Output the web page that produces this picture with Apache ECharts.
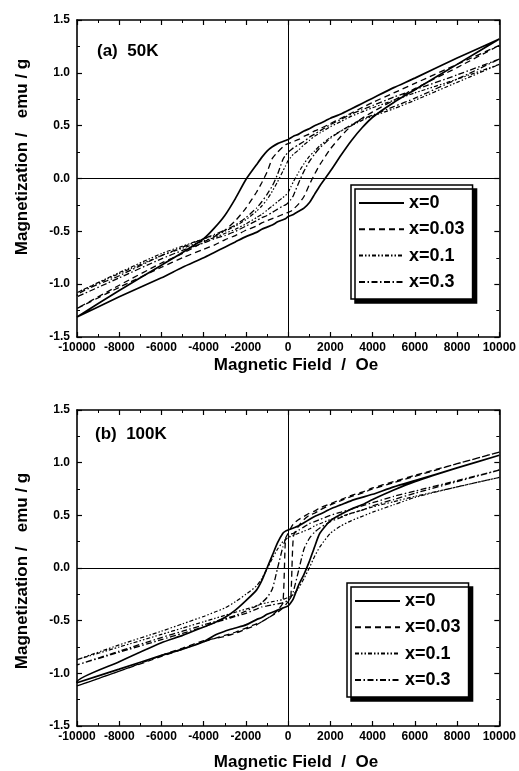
<!DOCTYPE html>
<html><head><meta charset="utf-8">
<script src="https://cdn.jsdelivr.net/npm/echarts@6/dist/echarts.min.js"></script>
<style>html,body{margin:0;padding:0;background:#fff}#c{width:519px;height:771px}</style>
</head><body><div id="c"></div><script>
// Field values (Oe) along descending branch and ascending branch
const fieldDown = [10000,8000,6000,5000,4000,3500,3000,2500,2000,1500,1250,1000,750,500,250,125,0,-125,-250,-500,-750,-1000,-1250,-1500,-2000,-2500,-3000,-3500,-4000,-5000,-6000,-8000,-10000];
const fieldUp = [-10000,-8000,-6000,-5000,-4000,-3500,-3000,-2500,-2000,-1500,-1250,-1000,-750,-500,-250,-125,0,125,250,500,750,1000,1250,1500,2000,2500,3000,3500,4000,5000,6000,8000,10000];

const seriesNames = ['x=0','x=0.03','x=0.1','x=0.3'];
const xTicks = [-10000,-8000,-6000,-4000,-2000,0,2000,4000,6000,8000,10000];
const yTicks = [-1.5,-1.0,-0.5,0.0,0.5,1.0,1.5];
const panelTitles = ['(a)  50K','(b)  100K'];

// (a) 50K
const a50_x0_down = [1.32,1.14,0.95,0.86,0.76,0.71,0.66,0.61,0.57,0.52,0.50,0.47,0.45,0.42,0.40,0.385,0.37,0.36,0.35,0.33,0.30,0.26,0.20,0.13,-0.01,-0.19,-0.35,-0.47,-0.57,-0.70,-0.82,-1.06,-1.31];
const a50_x0_up = [-1.31,-1.12,-0.94,-0.84,-0.75,-0.70,-0.65,-0.60,-0.55,-0.51,-0.48,-0.46,-0.44,-0.41,-0.39,-0.38,-0.36,-0.35,-0.34,-0.31,-0.28,-0.23,-0.15,-0.07,0.07,0.22,0.36,0.48,0.58,0.72,0.84,1.08,1.32];
const a50_x003_down = [1.26,1.08,0.90,0.81,0.72,0.67,0.62,0.57,0.52,0.47,0.45,0.42,0.40,0.37,0.35,0.34,0.33,0.32,0.30,0.25,0.19,0.06,-0.04,-0.13,-0.28,-0.40,-0.49,-0.55,-0.60,-0.71,-0.80,-1.01,-1.23];
const a50_x003_up = [-1.23,-1.03,-0.84,-0.75,-0.67,-0.63,-0.58,-0.54,-0.49,-0.45,-0.42,-0.40,-0.38,-0.36,-0.34,-0.33,-0.32,-0.31,-0.29,-0.24,-0.17,-0.06,0.04,0.13,0.28,0.40,0.50,0.57,0.63,0.74,0.85,1.05,1.26];
const a50_x01_down = [1.08,0.94,0.81,0.74,0.67,0.63,0.59,0.54,0.49,0.43,0.40,0.36,0.32,0.27,0.23,0.20,0.17,0.12,0.07,-0.03,-0.12,-0.20,-0.26,-0.31,-0.39,-0.45,-0.50,-0.54,-0.57,-0.64,-0.71,-0.89,-1.08];
const a50_x01_up = [-1.08,-0.90,-0.73,-0.66,-0.59,-0.56,-0.52,-0.48,-0.43,-0.37,-0.34,-0.30,-0.26,-0.22,-0.18,-0.16,-0.13,-0.08,-0.03,0.06,0.14,0.21,0.26,0.31,0.39,0.45,0.50,0.55,0.59,0.66,0.74,0.91,1.08];
const a50_x03_down = [1.13,0.98,0.84,0.77,0.69,0.65,0.61,0.56,0.51,0.45,0.42,0.39,0.35,0.32,0.29,0.27,0.25,0.22,0.18,0.04,-0.07,-0.15,-0.22,-0.28,-0.37,-0.44,-0.49,-0.53,-0.57,-0.65,-0.73,-0.92,-1.11];
const a50_x03_up = [-1.12,-0.94,-0.76,-0.68,-0.61,-0.57,-0.54,-0.50,-0.45,-0.40,-0.37,-0.35,-0.32,-0.29,-0.26,-0.25,-0.23,-0.20,-0.16,-0.04,0.07,0.16,0.23,0.29,0.38,0.45,0.51,0.56,0.60,0.68,0.76,0.94,1.13];

// (b) 100K
const b100_x0_down = [1.07,0.95,0.83,0.77,0.70,0.67,0.64,0.60,0.56,0.51,0.49,0.46,0.43,0.40,0.38,0.37,0.36,0.35,0.33,0.24,0.12,0.00,-0.12,-0.21,-0.31,-0.40,-0.47,-0.52,-0.56,-0.64,-0.71,-0.89,-1.08];
const b100_x0_up = [-1.09,-0.96,-0.83,-0.77,-0.70,-0.64,-0.60,-0.57,-0.54,-0.49,-0.47,-0.44,-0.42,-0.40,-0.38,-0.37,-0.36,-0.33,-0.29,-0.16,-0.06,0.06,0.20,0.33,0.45,0.51,0.56,0.60,0.65,0.74,0.82,0.95,1.07];
const b100_x003_down = [1.10,0.99,0.88,0.82,0.76,0.72,0.69,0.65,0.61,0.57,0.54,0.52,0.49,0.46,0.42,0.38,0.33,0.28,-0.33,-0.40,-0.45,-0.48,-0.51,-0.54,-0.58,-0.62,-0.65,-0.67,-0.69,-0.76,-0.83,-0.98,-1.12];
const b100_x003_up = [-1.12,-0.98,-0.84,-0.77,-0.70,-0.67,-0.64,-0.61,-0.57,-0.53,-0.51,-0.48,-0.45,-0.42,-0.38,-0.35,-0.32,-0.28,0.30,0.40,0.46,0.50,0.52,0.55,0.60,0.64,0.68,0.71,0.75,0.81,0.87,0.99,1.10];
const b100_x01_down = [0.86,0.77,0.68,0.63,0.58,0.55,0.52,0.49,0.46,0.42,0.40,0.37,0.35,0.33,0.31,0.30,0.29,0.27,0.25,0.18,0.09,-0.01,-0.10,-0.17,-0.25,-0.32,-0.38,-0.42,-0.46,-0.53,-0.60,-0.73,-0.87];
const b100_x01_up = [-0.87,-0.75,-0.63,-0.57,-0.51,-0.48,-0.45,-0.42,-0.39,-0.36,-0.34,-0.33,-0.32,-0.31,-0.30,-0.29,-0.28,-0.27,-0.25,-0.19,-0.10,0.00,0.11,0.20,0.33,0.40,0.45,0.49,0.53,0.60,0.67,0.77,0.86];
const b100_x03_down = [0.93,0.83,0.73,0.68,0.62,0.59,0.56,0.53,0.50,0.46,0.44,0.42,0.39,0.36,0.33,0.32,0.30,0.27,0.20,0.00,-0.20,-0.28,-0.33,-0.36,-0.41,-0.45,-0.48,-0.51,-0.54,-0.60,-0.66,-0.79,-0.92];
const b100_x03_up = [-0.92,-0.80,-0.68,-0.62,-0.56,-0.52,-0.49,-0.46,-0.43,-0.39,-0.37,-0.36,-0.35,-0.34,-0.33,-0.32,-0.31,-0.28,-0.22,-0.02,0.18,0.28,0.34,0.38,0.44,0.48,0.52,0.55,0.59,0.65,0.71,0.82,0.93];

const panels = [
  {down:[a50_x0_down,a50_x003_down,a50_x01_down,a50_x03_down], up:[a50_x0_up,a50_x003_up,a50_x01_up,a50_x03_up]},
  {down:[b100_x0_down,b100_x003_down,b100_x01_down,b100_x03_down], up:[b100_x0_up,b100_x003_up,b100_x01_up,b100_x03_up]}
];

const FONT = '"Liberation Sans", Arial, sans-serif';
const lineStyles = [
  {type:'solid', width:1.7},
  {type:[6,4], width:1.3},
  {type:[4,2,1.5,2,1.5,2], width:1.2},
  {type:[6,2.5,1.5,2.5], width:1.3}
];

const grids = [
  {left:77, top:20, width:423, height:317},
  {left:77, top:410, width:424, height:316}
];

function xAx(g, pos, lbl){
  return {type:'value', gridIndex:g, position:pos, min:xTicks[0], max:xTicks[xTicks.length-1], interval:xTicks[1]-xTicks[0],
    axisLine:{show:true, onZero:false, lineStyle:{color:'#000', width:1.6}},
    axisTick:{show:true, inside:true, length:5, lineStyle:{color:'#000', width:1.2}},
    minorTick:{show:true, splitNumber:2, length:3, lineStyle:{color:'#000', width:1}},
    splitLine:{show:false}, minorSplitLine:{show:false},
    axisLabel:{show:lbl, margin:5, fontSize:12, fontWeight:'bold', fontFamily:FONT, color:'#000', formatter:v=>String(v)}};
}
function yAx(g, pos, lbl){
  return {type:'value', gridIndex:g, position:pos, min:yTicks[0], max:yTicks[yTicks.length-1], interval:yTicks[1]-yTicks[0],
    axisLine:{show:true, onZero:false, lineStyle:{color:'#000', width:1.6}},
    axisTick:{show:true, inside:true, length:5, lineStyle:{color:'#000', width:1.2}},
    minorTick:{show:true, splitNumber:2, length:3, lineStyle:{color:'#000', width:1}},
    splitLine:{show:false}, minorSplitLine:{show:false},
    axisLabel:{show:lbl, margin:7, fontSize:12, fontWeight:'bold', fontFamily:FONT, color:'#000', formatter:v=>v.toFixed(1)}};
}

const xAxis = [xAx(0,'bottom',true), xAx(0,'top',false), xAx(1,'bottom',true), xAx(1,'top',false)];
const yAxis = [yAx(0,'left',true), yAx(0,'right',false), yAx(1,'left',true), yAx(1,'right',false)];

const series = [];
panels.forEach((p, pi) => {
  seriesNames.forEach((name, si) => {
    const data = fieldDown.map((h,i)=>[h, p.down[si][i]]).concat(fieldUp.map((h,i)=>[h, p.up[si][i]]));
    const s = {name, type:'line', xAxisIndex:pi*2, yAxisIndex:pi*2, data, showSymbol:false, symbol:'none',
      smooth:0.2, lineStyle:Object.assign({color:'#000'}, lineStyles[si]), itemStyle:{color:'#000'},
      silent:true, animation:false, z:3};
    if (si === 0) {
      s.markLine = {silent:true, symbol:'none', animation:false, label:{show:false},
        lineStyle:{color:'#000', type:'solid', width:1}, data:[{xAxis:0},{yAxis:0}]};
    }
    series.push(s);
  });
});

function legendAt(left, top){
  return {orient:'vertical', left, top, itemWidth:45, itemHeight:12, itemGap:8.3,
    padding:[9,8,8,7], backgroundColor:'#fff', borderColor:'#000', borderWidth:1.5,
    shadowColor:'#000', shadowOffsetX:4, shadowOffsetY:4, shadowBlur:0,
    selectedMode:false, data:seriesNames,
    itemStyle:{opacity:0, borderWidth:0},
    textStyle:{fontFamily:FONT, fontWeight:'bold', fontSize:18, lineHeight:18, color:'#000'}};
}

const yLabel = 'Magnetization /   emu / g';
const xLabel = 'Magnetic Field  /  Oe';
const graphic = [
  {type:'text', left:97, top:43, style:{text:panelTitles[0], font:'bold 17px '+FONT, fill:'#000'}},
  {type:'text', left:95, top:426, style:{text:panelTitles[1], font:'bold 17px '+FONT, fill:'#000'}},
  {type:'text', x:22, y:157, rotation:Math.PI/2, style:{text:yLabel, font:'bold 17px '+FONT, fill:'#000', align:'center', verticalAlign:'middle', textAlign:'center', textVerticalAlign:'middle'}},
  {type:'text', x:22, y:571, rotation:Math.PI/2, style:{text:yLabel, font:'bold 17px '+FONT, fill:'#000', align:'center', verticalAlign:'middle', textAlign:'center', textVerticalAlign:'middle'}},
  {type:'text', x:296, y:365, style:{text:xLabel, font:'bold 17px '+FONT, fill:'#000', align:'center', verticalAlign:'middle', textAlign:'center', textVerticalAlign:'middle'}},
  {type:'text', x:296, y:762, style:{text:xLabel, font:'bold 17px '+FONT, fill:'#000', align:'center', verticalAlign:'middle', textAlign:'center', textVerticalAlign:'middle'}}
];

const chart = echarts.init(document.getElementById('c'), null, {renderer:'canvas'});
chart.setOption({
  animation:false,
  backgroundColor:'#fff',
  grid:grids,
  xAxis, yAxis, series,
  legend:[legendAt(351,185), legendAt(347,583)],
  graphic
});
</script></body></html>
